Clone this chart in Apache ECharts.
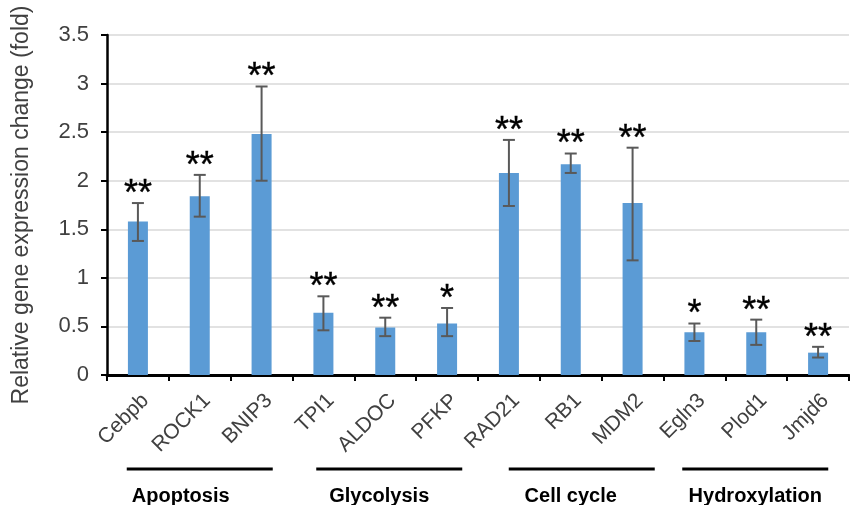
<!DOCTYPE html>
<html>
<head>
<meta charset="utf-8">
<script src="https://cdn.jsdelivr.net/npm/echarts@6/dist/echarts.min.js"></script>
<style>
html,body{margin:0;padding:0;background:#fff;}
#chart{width:850px;height:505px;}
</style>
</head>
<body>
<div id="chart"></div>
<script>
const categories = ['Cebpb','ROCK1','BNIP3','TPI1','ALDOC','PFKP','RAD21','RB1','MDM2','Egln3','Plod1','Jmjd6'];
const values     = [1.58, 1.84, 2.48, 0.64, 0.49, 0.53, 2.08, 2.17, 1.77, 0.44, 0.44, 0.23];
const errUpper   = [1.77, 2.06, 2.97, 0.81, 0.59, 0.69, 2.42, 2.28, 2.34, 0.53, 0.57, 0.29];
const errLower   = [1.38, 1.63, 2.00, 0.46, 0.40, 0.40, 1.74, 2.08, 1.18, 0.35, 0.31, 0.18];
const stars      = ['**','**','**','**','**','*','**','**','**','*','**','**'];
const groupNames = ['Apoptosis','Glycolysis','Cell cycle','Hydroxylation'];
const groupStart = [0, 3, 6, 9];
const groupEnd   = [2, 5, 8, 11];
const yTicks     = [0, 0.5, 1, 1.5, 2, 2.5, 3, 3.5];

// styling offsets (pixels) for the group annotations
const lineShift = [0, 4, 11, -1];
const textShift = [-19, -6, 0, -1];
const lineHalf = 73;

const FONT = 'Liberation Sans';
const chart = echarts.init(document.getElementById('chart'), null, {renderer:'canvas'});

const errData = categories.map((c, i) => [i, errLower[i], errUpper[i]]);

chart.setOption({
  animation: false,
  backgroundColor: '#fff',
  grid: {left: 107, right: 1, top: 35, bottom: 130, containLabel: false},
  xAxis: {
    type: 'category',
    data: categories,
    axisLine: {show: true, lineStyle: {color: '#000', width: 3}},
    axisTick: {show: true, length: 6, lineStyle: {color: '#000', width: 2}},
    axisLabel: {interval: 0, rotate: 45, fontSize: 21, color: '#404040', fontFamily: FONT, margin: 15,
      verticalAlign: 'top'},
    splitLine: {show: false}
  },
  yAxis: {
    type: 'value',
    min: 0, max: 3.5, interval: 0.5,
    name: 'Relative gene expression change (fold)',
    nameLocation: 'middle',
    nameRotate: 90,
    nameGap: 74,
    nameTextStyle: {fontSize: 23, color: '#404040', fontFamily: FONT},
    axisLine: {show: true, lineStyle: {color: '#000', width: 2.5}},
    axisTick: {show: true, length: 6, lineStyle: {color: '#000', width: 2}},
    axisLabel: {fontSize: 22, color: '#404040', fontFamily: FONT, margin: 18,
      formatter: v => String(v)},
    splitLine: {show: true, lineStyle: {color: '#d9d9d9', width: 1.5}}
  },
  series: [
    {
      type: 'bar',
      data: values,
      barWidth: 20,
      itemStyle: {color: '#5b9bd5'},
      z: 2
    },
    {
      type: 'custom',
      data: errData,
      z: 5,
      renderItem: function (params, api) {
        const idx = api.value(0);
        const hi = api.coord([idx, api.value(2)]);
        const lo = api.coord([idx, api.value(1)]);
        const hw = 6;
        const st = {stroke: '#595959', lineWidth: 2};
        return {
          type: 'group',
          children: [
            {type: 'line', shape: {x1: hi[0], y1: hi[1], x2: lo[0], y2: lo[1]}, style: st},
            {type: 'line', shape: {x1: hi[0]-hw, y1: hi[1], x2: hi[0]+hw, y2: hi[1]}, style: st},
            {type: 'line', shape: {x1: lo[0]-hw, y1: lo[1], x2: lo[0]+hw, y2: lo[1]}, style: st},
            {type: 'text', style: {text: stars[params.dataIndex], x: hi[0], y: hi[1] - 8,
              align: 'center', verticalAlign: 'middle', font: '36px "' + FONT + '"', fill: '#000',
              stroke: '#000', lineWidth: 0.4}}
          ]
        };
      }
    }
  ]
});

// group annotations positioned from the category axis
const graphics = [];
groupNames.forEach((name, g) => {
  const x1 = chart.convertToPixel({xAxisIndex: 0}, categories[groupStart[g]]);
  const x2 = chart.convertToPixel({xAxisIndex: 0}, categories[groupEnd[g]]);
  const mid = (x1 + x2) / 2;
  graphics.push({type: 'line', shape: {x1: mid + lineShift[g] - lineHalf, y1: 469, x2: mid + lineShift[g] + lineHalf, y2: 469},
    style: {stroke: '#000', lineWidth: 3}, silent: true});
  graphics.push({type: 'text', x: mid + textShift[g], y: 496, style: {text: name, x: 0, y: 0, align: 'center', verticalAlign: 'middle',
    font: 'bold 20px "' + FONT + '"', fill: '#000'}, silent: true});
});
chart.setOption({graphic: graphics});
</script>
</body>
</html>
